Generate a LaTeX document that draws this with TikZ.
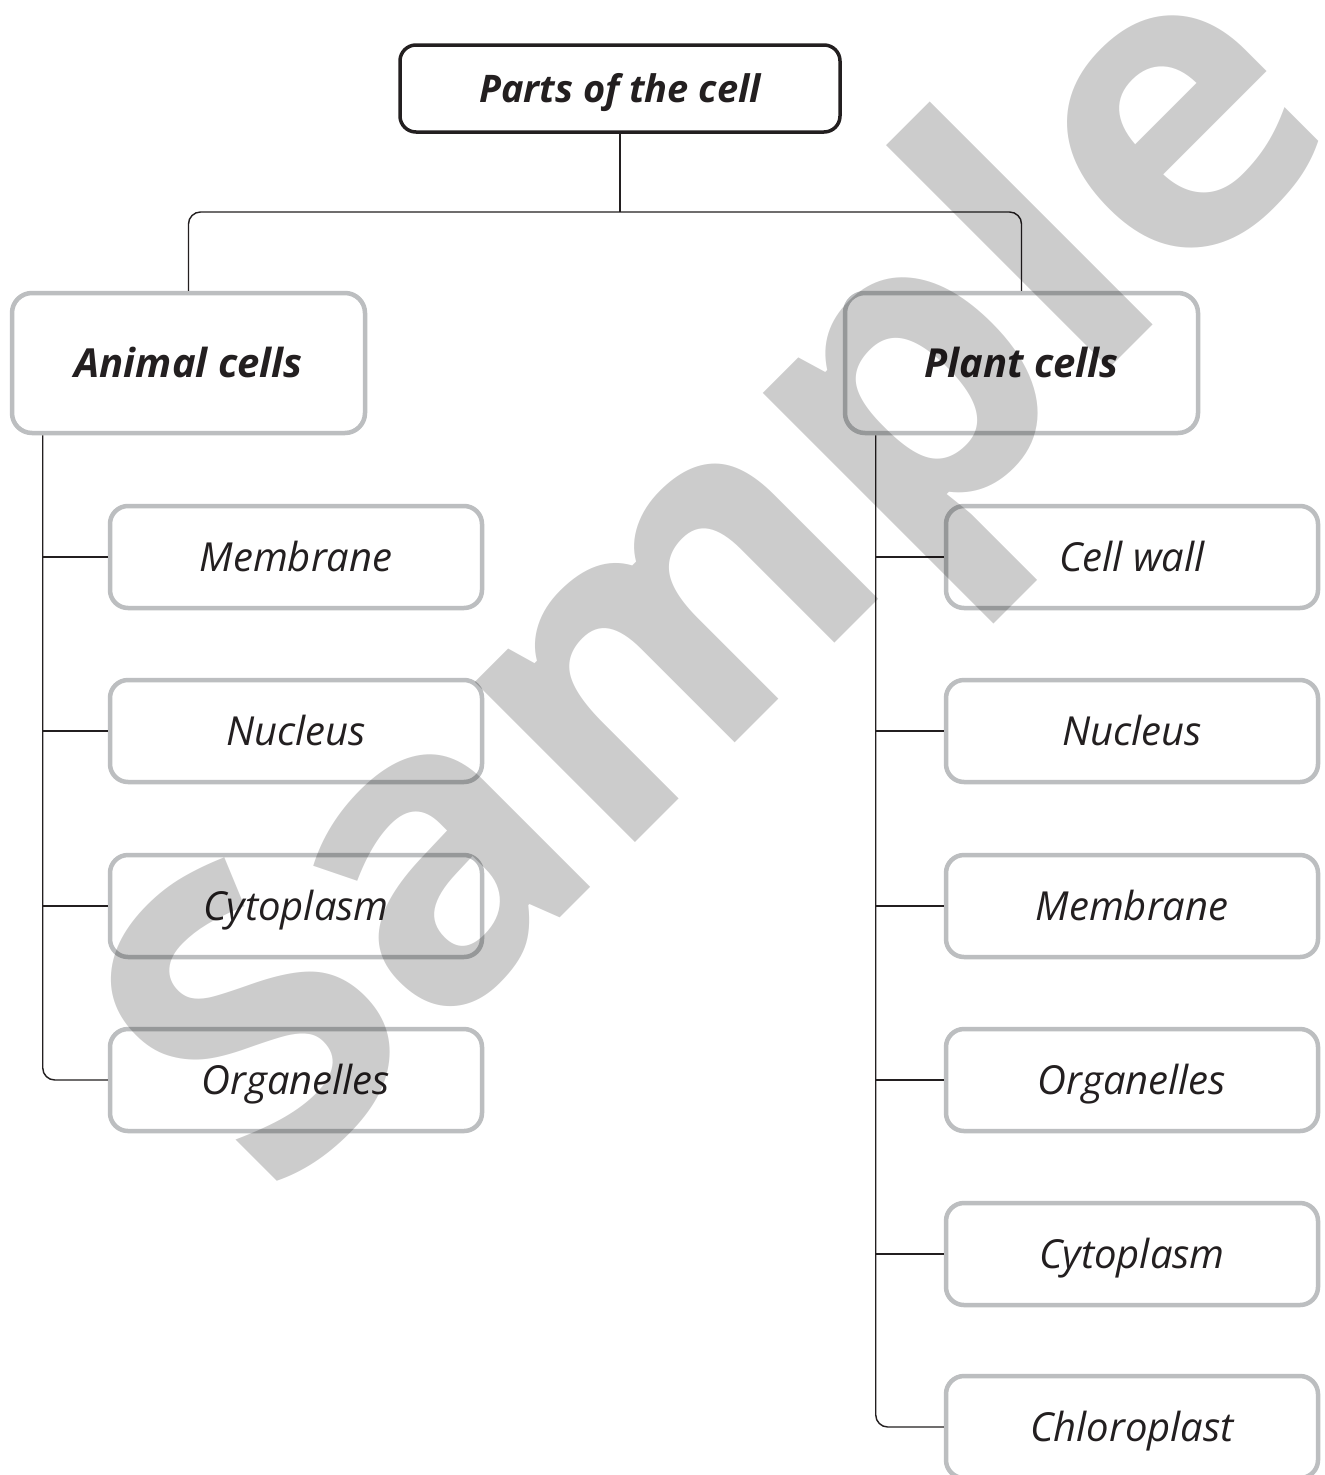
\documentclass[tikz,border=0pt]{standalone}
\usepackage{fontspec}
\setmainfont{Open Sans}
\usetikzlibrary{calc}
\definecolor{boxgray}{HTML}{BCBEC0}
\definecolor{ink}{HTML}{231F20}
\begin{document}
\begin{tikzpicture}[x=1pt,y=-1pt,
  rootbox/.style={draw=ink,line width=3.5pt,rounded corners=16pt,minimum width=440pt,minimum height=87pt,inner sep=0pt,
    text height=27pt,text depth=0pt,
    font=\fontsize{38}{38}\selectfont\bfseries\itshape,text=ink},
  headbox/.style={draw=boxgray,line width=4.5pt,rounded corners=20pt,minimum width=353pt,minimum height=140pt,inner sep=0pt,
    text height=28.5pt,text depth=0pt,
    font=\fontsize{40}{40}\selectfont\bfseries\itshape,text=ink},
  leafbox/.style={draw=boxgray,line width=4.5pt,rounded corners=18pt,minimum width=372pt,minimum height=102pt,inner sep=0pt,
    text height=28.5pt,text depth=0pt,
    font=\fontsize{40}{40}\selectfont\itshape,text=ink},
  conn/.style={draw=ink,line width=1.4pt},
]
\useasboundingbox (0,0) rectangle (1325,1475);
\fill[white] (0,0) rectangle (1325,1475);

\node[rootbox] (root) at (620,88.5) {Parts of the cell};
\node[headbox] (animal) at (188.5,363) {Animal cells};
\node[headbox] (plant) at (1021.5,363) {Plant cells};

\node[leafbox] (a1) at (296,557) {Membrane};
\node[leafbox] (a2) at (296,731) {Nucleus};
\node[leafbox] (a3) at (296,906) {Cytoplasm};
\node[leafbox] (a4) at (296,1080) {Organelles};

\node[leafbox] (p1) at (1132,557) {Cell wall};
\node[leafbox] (p2) at (1132,731) {Nucleus};
\node[leafbox] (p3) at (1132,906) {Membrane};
\node[leafbox] (p4) at (1132,1080) {Organelles};
\node[leafbox] (p5) at (1132,1254) {Cytoplasm};
\node[leafbox] (p6) at (1132,1427) {Chloroplast};

\coordinate (j) at (620,212);
\draw[conn] (root.south) -- (j);
\draw[conn,rounded corners=12pt] (animal.north) |- (j) -| (plant.north);

\coordinate (lt) at ($(animal.south west)+(33,0)$);
\coordinate (rt) at ($(plant.south west)+(33,0)$);
\draw[conn,rounded corners=12pt] (lt) |- (a4.west);
\foreach \n in {a1,a2,a3} \draw[conn] (lt |- \n.west) -- (\n.west);
\draw[conn,rounded corners=12pt] (rt) |- (p6.west);
\foreach \n in {p1,p2,p3,p4,p5} \draw[conn] (rt |- \n.west) -- (\n.west);

\node[text=black,opacity=0.2,rotate=45,font=\fontsize{415}{415}\selectfont\bfseries,inner sep=0pt] (wm) at (735,590) {Sample};
\end{tikzpicture}
\end{document}
